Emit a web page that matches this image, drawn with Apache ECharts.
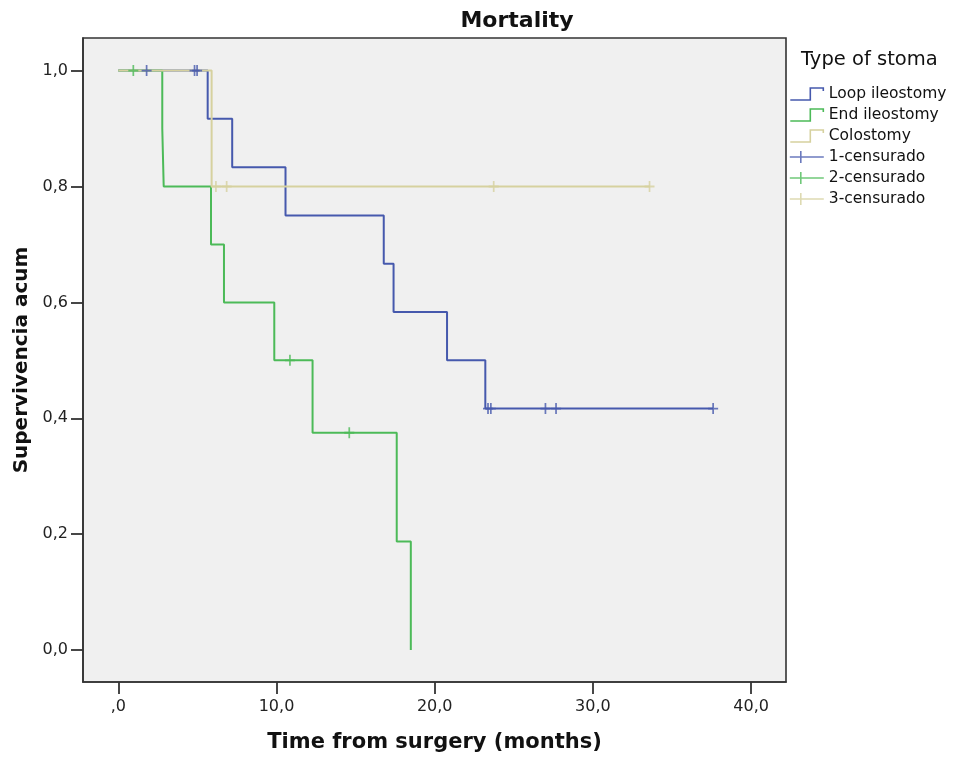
<!DOCTYPE html>
<html>
<head>
<meta charset="utf-8">
<script src="https://cdn.jsdelivr.net/npm/echarts@6/dist/echarts.min.js"></script>
<style>
html,body{margin:0;padding:0;background:#fff;}
#chart{width:953px;height:758px;}
</style>
</head>
<body>
<div id="chart"></div>
<script>
// ---- Data ----
var seriesNames = ['Loop ileostomy', 'End ileostomy', 'Colostomy', '1-censurado', '2-censurado', '3-censurado'];

// Kaplan-Meier step curves (time in months, cumulative survival)
var loopTimes = [0, 5.65, 7.2, 10.57, 16.78, 17.4, 20.78, 23.2, 37.6];
var loopSurv  = [1, 0.9167, 0.8333, 0.75, 0.6667, 0.5833, 0.5, 0.4167, 0.4167];
var endTimes  = [0, 2.78, 2.87, 5.86, 6.68, 9.86, 12.28, 17.6, 18.49];
var endSurv   = [1, 0.9, 0.8, 0.7, 0.6, 0.5, 0.375, 0.1875, 0];
var colTimes  = [0, 5.9, 33.6];
var colSurv   = [1, 0.8, 0.8];

// Censored observations
var loopCensTimes = [1.79, 4.82, 4.98, 23.37, 23.55, 27.0, 27.67, 37.6];
var loopCensSurv  = [1, 1, 1, 0.4167, 0.4167, 0.4167, 0.4167, 0.4167];
var endCensTimes  = [0.95, 10.85, 14.6];
var endCensSurv   = [1, 0.5, 0.375];
var colCensTimes  = [6.17, 6.85, 23.73, 33.58];
var colCensSurv   = [0.8, 0.8, 0.8, 0.8];

// Tick labels
var xTickValues = [0, 10, 20, 30, 40];
var xTickLabels = [',0', '10,0', '20,0', '30,0', '40,0'];
var yTickValues = [0, 0.2, 0.4, 0.6, 0.8, 1];
var yTickLabels = ['0,0', '0,2', '0,4', '0,6', '0,8', '1,0'];

// ---- Styling ----
var colors = ['#4659ad', '#4cba58', '#d6d19f'];
var FONT = 'DejaVu Sans';

function pairs(xs, ys) {
  return xs.map(function (x, i) { return [x, ys[i]]; });
}
function lookup(vals, labels, v) {
  for (var i = 0; i < vals.length; i++) {
    if (Math.abs(vals[i] - v) < 1e-6) return labels[i];
  }
  return '';
}

var censorSymbol = 'path://M5,0 L5,11 M0,5.5 L10,5.5';
var stepIcon = 'path://M0,12 L20,12 L20,0 L33,0 L33,3';
var crossIcon = 'path://M0,6 L34,6 M11,0 L11,12';

var curveData = [pairs(loopTimes, loopSurv), pairs(endTimes, endSurv), pairs(colTimes, colSurv)];
var censData = [pairs(loopCensTimes, loopCensSurv), pairs(endCensTimes, endCensSurv), pairs(colCensTimes, colCensSurv)];

var series = [];
for (var i = 0; i < 3; i++) {
  series.push({
    name: seriesNames[i],
    type: 'line',
    step: 'end',
    data: curveData[i],
    showSymbol: false,
    symbol: 'none',
    lineStyle: { color: colors[i], width: 2 },
    itemStyle: { color: colors[i] },
    z: 2 + i * 0.1,
    emphasis: { disabled: true },
    silent: true
  });
}
for (var j = 0; j < 3; j++) {
  series.push({
    name: seriesNames[3 + j],
    type: 'scatter',
    data: censData[j],
    symbol: censorSymbol,
    symbolSize: [10, 11],
    itemStyle: { color: 'rgba(0,0,0,0)', borderColor: colors[j], borderWidth: 1.8 },
    z: 5,
    emphasis: { disabled: true },
    silent: true
  });
}

var legendData = seriesNames.map(function (n, k) {
  return {
    name: n,
    icon: k < 3 ? stepIcon : crossIcon,
    itemStyle: { color: 'rgba(0,0,0,0)', borderColor: colors[k % 3], borderWidth: 1.6 }
  };
});

var chart = echarts.init(document.getElementById('chart'), null, { renderer: 'canvas' });
chart.setOption({
  animation: false,
  backgroundColor: '#ffffff',
  graphic: [
    {
      type: 'text', x: 517, y: 21,
      style: { text: 'Mortality', font: 'bold 22px "' + FONT + '"', fill: '#111', textAlign: 'center', textVerticalAlign: 'middle' }
    },
    {
      type: 'text', x: 801, y: 60,
      style: { text: 'Type of stoma', font: '19.5px "' + FONT + '"', fill: '#111', textAlign: 'left', textVerticalAlign: 'middle' }
    }
  ],
  legend: {
    orient: 'vertical',
    left: 789,
    top: 86,
    padding: 0,
    itemWidth: 34,
    itemHeight: 12,
    itemGap: 5,
    selectedMode: false,
    textStyle: { fontFamily: FONT, fontSize: 15.5, color: '#111' },
    data: legendData
  },
  grid: {
    left: 83, right: 167, top: 38, bottom: 73,
    show: true,
    backgroundColor: '#f0f0f0',
    borderColor: '#333',
    borderWidth: 1.6,
    containLabel: false
  },
  xAxis: {
    type: 'value',
    min: -2.231,
    max: 42.206,
    name: 'Time from surgery (months)',
    nameLocation: 'middle',
    nameGap: 50,
    nameTextStyle: { fontFamily: FONT, fontSize: 21, fontWeight: 'bold', color: '#111' },
    axisLine: { show: true, onZero: false, lineStyle: { color: '#333', width: 1.6 } },
    axisTick: { show: true, customValues: xTickValues, length: 12, lineStyle: { color: '#333', width: 1.8 } },
    axisLabel: {
      show: true,
      customValues: xTickValues,
      margin: 17,
      fontFamily: FONT, fontSize: 16, color: '#222',
      formatter: function (v) { return lookup(xTickValues, xTickLabels, v); }
    },
    splitLine: { show: false }
  },
  yAxis: {
    type: 'value',
    min: -0.055,
    max: 1.0562,
    name: 'Supervivencia acum',
    nameLocation: 'middle',
    nameGap: 51,
    nameTextStyle: { fontFamily: FONT, fontSize: 20, fontWeight: 'bold', color: '#111' },
    axisLine: { show: true, onZero: false, lineStyle: { color: '#333', width: 1.6 } },
    axisTick: { show: true, customValues: yTickValues, length: 12, lineStyle: { color: '#333', width: 1.8 } },
    axisLabel: {
      show: true,
      customValues: yTickValues,
      margin: 15,
      fontFamily: FONT, fontSize: 16, color: '#222',
      formatter: function (v) { return lookup(yTickValues, yTickLabels, v); }
    },
    splitLine: { show: false }
  },
  series: series
});
</script>
</body>
</html>
